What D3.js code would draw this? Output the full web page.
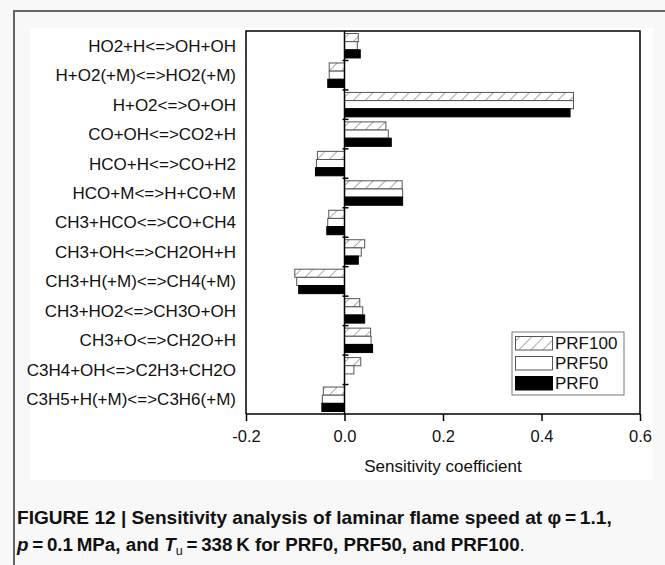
<!DOCTYPE html>
<html>
<head>
<meta charset="utf-8">
<script src="https://cdn.jsdelivr.net/npm/d3@7"></script>
<style>
  body { margin: 0; background: #f8f8f8; }
  svg { display: block; font-family: "Liberation Sans", Arial, sans-serif; }
</style>
</head>
<body>
<svg width="665" height="565"></svg>
<script>
// reactions, top to bottom
let reactions = [
    'HO2+H<=>OH+OH',
    'H+O2(+M)<=>HO2(+M)',
    'H+O2<=>O+OH',
    'CO+OH<=>CO2+H',
    'HCO+H<=>CO+H2',
    'HCO+M<=>H+CO+M',
    'CH3+HCO<=>CO+CH4',
    'CH3+OH<=>CH2OH+H',
    'CH3+H(+M)<=>CH4(+M)',
    'CH3+HO2<=>CH3O+OH',
    'CH3+O<=>CH2O+H',
    'C3H4+OH<=>C2H3+CH2O',
    'C3H5+H(+M)<=>C3H6(+M)'
];
let series = ['PRF100', 'PRF50', 'PRF0'];

let prf100 = [0.028, -0.031, 0.465, 0.084, -0.055, 0.117, -0.032, 0.041, -0.101, 0.031, 0.053, 0.033, -0.043];
let prf50  = [0.026, -0.031, 0.465, 0.089, -0.057, 0.118, -0.034, 0.034, -0.097, 0.037, 0.054, 0.019, -0.045];
let prf0   = [0.032, -0.034, 0.458, 0.095, -0.059, 0.118, -0.036, 0.028, -0.093, 0.041, 0.057, 0.000, -0.046];

let xTicks = [-0.2, 0.0, 0.2, 0.4, 0.6];

let values = { PRF100: prf100, PRF50: prf50, PRF0: prf0 };

let svg = d3.select('svg');

// outer figure frame and white chart panel
svg.append('rect').attr('x', 30).attr('y', 28).attr('width', 623).attr('height', 452).attr('fill', '#fff');
svg.append('path')
    .attr('d', 'M14,565 V11 H665')
    .attr('fill', 'none').attr('stroke', '#666').attr('stroke-width', 2);

let pLeft = 246, pRight = 640, pTop = 31, pBottom = 414;

let x = d3.scaleLinear().domain([-0.2, 0.6]).range([pLeft, pRight]);
let y = d3.scaleBand().domain(reactions).range([pTop, pBottom]).paddingInner(0.17).paddingOuter(0.085);
let yOuter = d3.scaleBand().domain(reactions).range([pTop, pBottom]);
let ySub = d3.scaleBand().domain(series).range([0, y.bandwidth()]);

// hatch pattern
let defs = svg.append('defs');
let pat = defs.append('pattern')
    .attr('id', 'hatch')
    .attr('patternUnits', 'userSpaceOnUse')
    .attr('width', 8.5).attr('height', 8.5)
    .attr('patternTransform', 'rotate(45)');
pat.append('rect').attr('width', 8.5).attr('height', 8.5).attr('fill', '#fff');
pat.append('line').attr('x1', 0).attr('y1', 0).attr('x2', 0).attr('y2', 8.5)
    .attr('stroke', '#666').attr('stroke-width', 1.1);

let fills = { PRF100: 'url(#hatch)', PRF50: '#fff', PRF0: '#000' };
let strokes = { PRF100: '#555', PRF50: '#555', PRF0: '#000' };

// bars
let groups = svg.append('g').selectAll('g')
    .data(reactions)
    .enter().append('g')
    .attr('transform', d => `translate(0,${y(d)})`);

groups.selectAll('rect')
    .data((d, i) => series.map(s => ({ s: s, v: values[s][i] })))
    .enter().append('rect')
    .attr('x', d => x(Math.min(0, d.v)))
    .attr('y', d => ySub(d.s))
    .attr('width', d => Math.abs(x(d.v) - x(0)))
    .attr('height', ySub.bandwidth())
    .attr('fill', d => fills[d.s])
    .attr('stroke', d => d.v === 0 ? 'none' : strokes[d.s])
    .attr('stroke-width', 1);

// plot frame
svg.append('path')
    .attr('d', `M${pLeft},${pBottom} V${pTop} H${pRight} V${pBottom}`)
    .attr('fill', 'none').attr('stroke', '#000').attr('stroke-width', 1.5);

// zero line with category separator ticks
svg.append('line')
    .attr('x1', x(0)).attr('x2', x(0)).attr('y1', pTop).attr('y2', pBottom)
    .attr('stroke', '#000').attr('stroke-width', 1.5);
svg.append('g').selectAll('line')
    .data(reactions.slice(1))
    .enter().append('line')
    .attr('x1', x(0) - 2).attr('x2', x(0) + 4)
    .attr('y1', d => yOuter(d)).attr('y2', d => yOuter(d))
    .attr('stroke', '#000').attr('stroke-width', 1.5);

// category labels
svg.append('g').selectAll('text')
    .data(reactions)
    .enter().append('text')
    .attr('x', 236)
    .attr('y', d => yOuter(d) + yOuter.bandwidth() / 2)
    .attr('dy', '0.35em')
    .attr('text-anchor', 'end')
    .style('font-size', '17px')
    .attr('fill', '#111')
    .text(d => d);

// x axis
let xAxis = d3.axisBottom(x).tickValues(xTicks).tickFormat(d => d.toFixed(1)).tickSize(7).tickPadding(9);
let gx = svg.append('g')
    .attr('transform', `translate(0,${pBottom})`)
    .call(xAxis);
gx.select('.domain').attr('stroke-width', 1.5).attr('d', `M${pLeft},0H${pRight}`);
gx.selectAll('.tick line').attr('stroke-width', 1.5);
gx.selectAll('.tick text')
    .style('font-size', '16.5px')
    .style('font-family', '"Liberation Sans", Arial, sans-serif')
    .attr('fill', '#111');

svg.append('text')
    .attr('x', x(0.2)).attr('y', 472)
    .attr('text-anchor', 'middle')
    .style('font-size', '17px')
    .attr('fill', '#111')
    .text('Sensitivity coefficient');

// legend
let legend = svg.append('g').attr('transform', 'translate(512,332)');
legend.append('rect')
    .attr('width', 112).attr('height', 63)
    .attr('fill', '#fff').attr('stroke', '#777').attr('stroke-width', 1);
series.forEach((s, i) => {
    legend.append('rect')
        .attr('x', 3.5).attr('y', 4.5 + i * 20)
        .attr('width', 37).attr('height', 13.5)
        .attr('fill', fills[s]).attr('stroke', strokes[s]).attr('stroke-width', 1);
    legend.append('text')
        .attr('x', 43).attr('y', 11.5 + i * 20)
        .attr('dy', '0.35em')
        .style('font-size', '17px')
        .attr('fill', '#111')
        .text(s);
});

// caption
let cap = svg.append('g')
    .style('font-family', '"Liberation Sans Narrow", "Arial Narrow", "Liberation Sans", sans-serif')
    .style('font-weight', 'bold')
    .style('font-size', '18px')
    .attr('fill', '#111');

let line1 = cap.append('text').attr('x', 17).attr('y', 524);
line1.append('tspan').text('FIGURE 12 | Sensitivity analysis of laminar flame speed at \u03C6\u2009=\u20091.1,');

let line2 = cap.append('text').attr('x', 17).attr('y', 551);
line2.append('tspan').style('font-style', 'italic').text('p');
line2.append('tspan').text('\u2009=\u20090.1\u2009MPa, and ');
line2.append('tspan').style('font-style', 'italic').text('T');
line2.append('tspan').attr('dy', 4).style('font-size', '12px').style('font-weight', 'normal').text('u');
line2.append('tspan').attr('dy', -4).text('\u2009=\u2009338\u2009K for PRF0, PRF50, and PRF100');
line2.append('tspan').style('font-weight', 'normal').text('.');

// squeeze caption lines to the widths in the figure
[[line1, 595], [line2, 508]].forEach(([t, w]) => {
    let cur = t.node().getComputedTextLength();
    t.attr('transform', `translate(17,0) scale(${w / cur},1) translate(-17,0)`);
});
</script>
</body>
</html>
